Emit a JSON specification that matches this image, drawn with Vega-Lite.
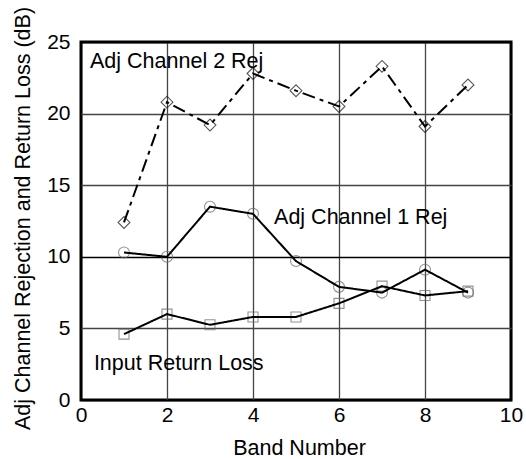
{
  "$schema": "https://vega.github.io/schema/vega-lite/v6.json",
  "width": 430,
  "height": 358,
  "autosize": "none",
  "padding": {"left": 81, "top": 42, "right": 15, "bottom": 59},
  "background": "white",
  "config": {
    "font": "Liberation Sans",
    "view": {"stroke": "black", "strokeWidth": 3},
    "axis": {
      "labelFont": "Liberation Sans",
      "titleFont": "Liberation Sans",
      "labelFontSize": 21,
      "titleFontSize": 21.5,
      "labelColor": "black",
      "titleColor": "black",
      "titleFontWeight": "normal",
      "labelFlush": false,
      "labelOverlap": false,
      "labelBound": false,
      "domain": false,
      "ticks": false,
      "grid": true,
      "gridWidth": 1.3,
      "gridColor": {"condition": {"test": "datum.value === 0 || datum.value === 10 || datum.value === 25", "value": "black"}, "value": "#444444"}
    }
  },
  "datasets": {
    "series": [
      {"band": 1, "db": 12.4, "trace": "Adj Channel 2 Rej"},
      {"band": 2, "db": 20.8, "trace": "Adj Channel 2 Rej"},
      {"band": 3, "db": 19.2, "trace": "Adj Channel 2 Rej"},
      {"band": 4, "db": 22.8, "trace": "Adj Channel 2 Rej"},
      {"band": 5, "db": 21.6, "trace": "Adj Channel 2 Rej"},
      {"band": 6, "db": 20.5, "trace": "Adj Channel 2 Rej"},
      {"band": 7, "db": 23.3, "trace": "Adj Channel 2 Rej"},
      {"band": 8, "db": 19.1, "trace": "Adj Channel 2 Rej"},
      {"band": 9, "db": 22.0, "trace": "Adj Channel 2 Rej"},
      {"band": 1, "db": 10.3, "trace": "Adj Channel 1 Rej"},
      {"band": 2, "db": 10.0, "trace": "Adj Channel 1 Rej"},
      {"band": 3, "db": 13.5, "trace": "Adj Channel 1 Rej"},
      {"band": 4, "db": 13.0, "trace": "Adj Channel 1 Rej"},
      {"band": 5, "db": 9.7, "trace": "Adj Channel 1 Rej"},
      {"band": 6, "db": 7.9, "trace": "Adj Channel 1 Rej"},
      {"band": 7, "db": 7.5, "trace": "Adj Channel 1 Rej"},
      {"band": 8, "db": 9.1, "trace": "Adj Channel 1 Rej"},
      {"band": 9, "db": 7.5, "trace": "Adj Channel 1 Rej"},
      {"band": 1, "db": 4.6, "trace": "Input Return Loss"},
      {"band": 2, "db": 6.0, "trace": "Input Return Loss"},
      {"band": 3, "db": 5.25, "trace": "Input Return Loss"},
      {"band": 4, "db": 5.8, "trace": "Input Return Loss"},
      {"band": 5, "db": 5.8, "trace": "Input Return Loss"},
      {"band": 6, "db": 6.75, "trace": "Input Return Loss"},
      {"band": 7, "db": 7.95, "trace": "Input Return Loss"},
      {"band": 8, "db": 7.3, "trace": "Input Return Loss"},
      {"band": 9, "db": 7.6, "trace": "Input Return Loss"}
    ],
    "labels": [
      {"band": 0.21, "db": 23.2, "text": "Adj Channel 2 Rej"},
      {"band": 4.49, "db": 12.3, "text": "Adj Channel 1 Rej"},
      {"band": 0.3, "db": 2.1, "text": "Input Return Loss"}
    ]
  },
  "layer": [
    {
      "data": {"name": "series"},
      "mark": {"type": "point", "filled": false, "strokeWidth": 1.1},
      "encoding": {
        "x": {
          "field": "band", "type": "quantitative",
          "scale": {"domain": [0, 10], "nice": false},
          "axis": {
            "values": [0, 2, 4, 6, 8, 10],
            "title": "Band Number",
            "labelPadding": 4,
            "titleX": 218, "titleY": 48,
            "titleAlign": "center", "titleBaseline": "middle"
          }
        },
        "y": {
          "field": "db", "type": "quantitative",
          "scale": {"domain": [0, 25], "nice": false},
          "axis": {
            "values": [0, 5, 10, 15, 20, 25],
            "title": "Adj Channel Rejection and Return Loss (dB)",
            "labelPadding": 11,
            "titleAngle": -90,
            "titleX": -58, "titleY": 176,
            "titleAlign": "center", "titleBaseline": "middle"
          }
        },
        "shape": {
          "field": "trace", "type": "nominal", "legend": null,
          "scale": {"domain": ["Adj Channel 2 Rej", "Adj Channel 1 Rej", "Input Return Loss"], "range": ["diamond", "circle", "square"]}
        },
        "size": {
          "field": "trace", "type": "nominal", "legend": null,
          "scale": {"domain": ["Adj Channel 2 Rej", "Adj Channel 1 Rej", "Input Return Loss"], "range": [140, 100, 130]}
        },
        "color": {
          "field": "trace", "type": "nominal", "legend": null,
          "scale": {"domain": ["Adj Channel 2 Rej", "Adj Channel 1 Rej", "Input Return Loss"], "range": ["#111111", "#666666", "#666666"]}
        }
      }
    },
    {
      "data": {"name": "series"},
      "mark": {"type": "line", "color": "black", "strokeWidth": 2},
      "encoding": {
        "x": {"field": "band", "type": "quantitative"},
        "y": {"field": "db", "type": "quantitative"},
        "detail": {"field": "trace", "type": "nominal"},
        "strokeDash": {
          "field": "trace", "type": "nominal", "legend": null,
          "scale": {"domain": ["Adj Channel 2 Rej", "Adj Channel 1 Rej", "Input Return Loss"], "range": [[13, 5, 4, 5], [1, 0], [1, 0]]}
        }
      }
    },
    {
      "data": {"name": "labels"},
      "mark": {"type": "text", "align": "left", "baseline": "alphabetic", "fontSize": 21.5, "font": "Liberation Sans", "color": "black"},
      "encoding": {
        "x": {"field": "band", "type": "quantitative"},
        "y": {"field": "db", "type": "quantitative"},
        "text": {"field": "text", "type": "nominal"}
      }
    }
  ]
}
